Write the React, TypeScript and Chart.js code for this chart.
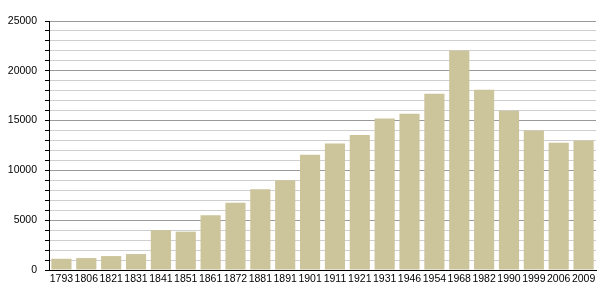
import React, { useEffect, useRef } from "react";
import { Chart, registerables } from "chart.js";

Chart.register(...registerables);

const years = ["1793","1806","1821","1831","1841","1851","1861","1872","1881","1891","1901","1911","1921","1931","1946","1954","1968","1982","1990","1999","2006","2009"];
const population = [1130,1200,1400,1600,4000,3850,5500,6750,8100,9000,11580,12700,13550,15200,15700,17700,22050,18100,16000,14000,12780,13000];
const yMax = 25000;
const yStep = 1000;
const labelStep = 5000;

export default function App() {
  const ref = useRef<HTMLCanvasElement | null>(null);
  useEffect(() => {
    document.body.style.margin = "0";
    const canvas = ref.current!;
    const chart = new Chart(canvas, {
      type: "bar",
      data: {
        labels: years,
        datasets: [{
          data: population,
          backgroundColor: "rgb(204,196,154)",
          borderWidth: 0,
          categoryPercentage: 1,
          barPercentage: 0.81,
        }],
      },
      options: {
        animation: false,
        responsive: false,
        maintainAspectRatio: false,
        devicePixelRatio: 1,
        layout: { padding: { top: 21, right: 9, left: 0, bottom: 0 } },
        plugins: { legend: { display: false }, tooltip: { enabled: false } },
        scales: {
          x: {
            grid: { display: false, drawTicks: false, tickLength: 0 },
            border: { display: true, color: "#000", width: 1 },
            ticks: {
              color: "#000",
              font: { family: "'Liberation Sans', Arial, sans-serif", size: 10.5 },
              padding: 3,
              autoSkip: false,
              maxRotation: 0,
            },
            afterFit: (s: any) => { s.height = 30; },
          },
          y: {
            min: 0,
            max: yMax,
            grid: {
              color: (ctx: any) => (ctx.tick && ctx.tick.value % labelStep === 0 ? "#9a9a9a" : "#cfcfcf"),
              tickColor: "#000",
              tickLength: 4,
              lineWidth: 1,
            },
            border: { display: true, color: "#000", width: 1 },
            ticks: {
              stepSize: yStep,
              autoSkip: false,
              color: "#000",
              padding: 8,
              font: { family: "'Liberation Sans', Arial, sans-serif", size: 10.5 },
              callback: (v: any) => (Number(v) % labelStep === 0 ? String(v) : ""),
            },
            afterFit: (s: any) => { s.width = 49; },
          },
        },
      },
    });
    return () => chart.destroy();
  }, []);
  return <canvas ref={ref} width={605} height={300} style={{ display: "block" }} />;
}
